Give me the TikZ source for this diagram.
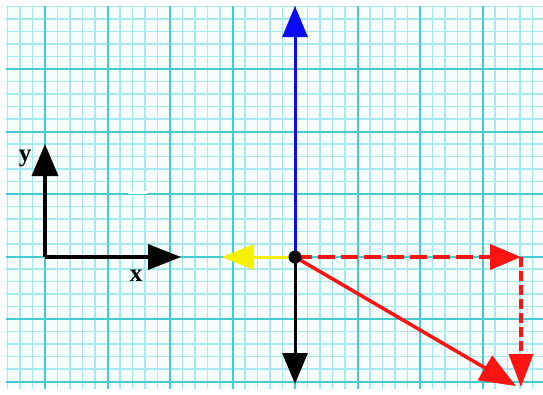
\documentclass[tikz,border=0pt]{standalone}
\usepackage{fontspec}
\setmainfont{Liberation Serif}
\usetikzlibrary{arrows.meta}
\definecolor{minorc}{HTML}{A6E9EE}
\definecolor{majorc}{HTML}{45CBD2}
\definecolor{paper}{HTML}{F6FEFE}
\definecolor{redv}{HTML}{FF1414}
\definecolor{bluev}{HTML}{0A0AF5}
\definecolor{yellowv}{HTML}{F7F000}
\begin{document}
\begin{tikzpicture}[x=1pt,y=-1pt,
  minorline/.style={draw=minorc,line width=1.8pt},
  majorline/.style={draw=majorc,line width=2pt},
  vec/.style={line width=3pt,-{Triangle[width=25pt,length=31pt]}},
  dashvec/.style={line width=4pt,draw=redv,-{Triangle[width=25pt,length=31pt]}},
  axislabel/.style={inner sep=0pt,font=\fontsize{25}{25}\selectfont\bfseries}]
\useasboundingbox (0,0) rectangle (543,394);
\fill[white] (0,0) rectangle (543,394);
\fill[paper] (6,6) rectangle (543,389);
\begin{scope}
  \clip (6,6) rectangle (543,389);
  \foreach \i in {0,...,43} \draw[minorline] ({7.5+12.5*\i},6) -- ({7.5+12.5*\i},389);
  \foreach \i in {0,...,31} \draw[minorline] (6,{6.5+12.5*\i}) -- (543,{6.5+12.5*\i});
  \foreach \i in {0,...,8} \draw[majorline] ({45+62.5*\i},6) -- ({45+62.5*\i},389);
  \foreach \i in {1,...,6} \draw[majorline] (6,{6.5+62.5*\i}) -- (543,{6.5+62.5*\i});
\end{scope}
% small white mark
\draw[white,line width=3pt] (128,192) -- (147,192);
% axes
\coordinate (C) at (45,257);
\coordinate (Y) at (45,144);
\coordinate (X) at (181,257);
\draw[vec,black,line width=3.5pt,-{Triangle[width=26pt,length=32pt]}] (C) -- (Y);
\draw[vec,black,line width=3.5pt,-{Triangle[width=25pt,length=33pt]}] (C) -- (X);
\node[axislabel] (ly) at (25,158) {y};
\node[axislabel] (lx) at (136,276) {x};
% vectors
\coordinate (O) at (295,257);
\coordinate (B) at (295,6);
\coordinate (D) at (295,384);
\coordinate (L) at (222,257);
\coordinate (R) at (521,257);
\coordinate (RT) at (521,257);
\coordinate (RB) at (521,387);
\coordinate (S) at (516,386);
\draw[vec,bluev] (O) -- (B);
\draw[vec,black] (O) -- (D);
\draw[vec,yellowv,-{Triangle[width=25pt,length=32pt]}] (O) -- (L);
\draw[dashvec,dash pattern=on 17pt off 6pt] (O) -- (R);
\draw[dashvec,line width=3.5pt,dash pattern=on 10pt off 4pt,-{Triangle[width=24pt,length=33pt]}] (RT) -- (RB);
\draw[vec,redv,line width=3.5pt,-{Triangle[width=28pt,length=36pt]}] (O) -- (S);
\node[circle,fill=black,inner sep=0pt,minimum size=13pt] (dot) at (O) {};
\end{tikzpicture}
\end{document}
